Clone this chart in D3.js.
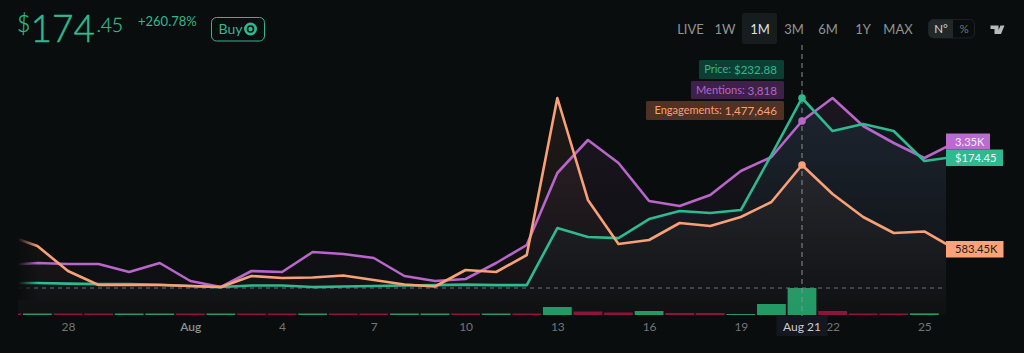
<!DOCTYPE html>
<html><head><meta charset="utf-8">
<script src="https://cdn.jsdelivr.net/npm/d3@7"></script>
<style>html,body{margin:0;padding:0;background:#0a0d0e;overflow:hidden}svg{display:block}text{font-family:Lato,Inter,sans-serif}</style>
</head><body><svg id="c" width="1024" height="353"></svg>
<script>
const startDay = "2023-07-26";
const lastStamp = "2023-08-25T17:15:00Z";
const priceValues = [52.7,52.7,52.2,51.7,51.7,51,49.8,48.8,50.3,50.3,48.8,49.3,49.8,50.3,50.7,51.2,50.7,50.7,106.3,97.5,96.5,115,122.8,120.9,123.8,177.4,232.88,200.7,207.6,200.7,171.5,174.45];
const mentionValues = [1226,1262,1244,1244,1100,1262,938,830,1118,1100,1460,1424,1352,1028,938,974,1262,1586,2882,3476,3062,2378,2288,2486,2918,3170,3818,4232,3728,3422,3152,3350];
const engagementValues = [685000,560800,277800,119400,119400,119400,108000,96700,221200,198600,204000,226900,176000,125000,102300,289100,266500,458900,2236000,1081500,583400,628700,821100,787200,889000,1058800,1477646,1149400,889000,708000,725000,583450];
const volumeValues = [3,3,3,3,3,3,3,3,3,3,3,3,3,3,3,3,3,3,16,7,5,8,4,4,2,22,54,8,3,3,3,3];
const volumeUp = [0,1,0,0,1,1,0,1,0,0,1,0,0,1,1,0,1,0,1,0,0,1,0,0,1,1,1,0,0,0,0,1];
const rangeLabels = ["LIVE","1W","1M","3M","6M","1Y","MAX"];
const tickDays = ["2023-07-28","2023-08-01","2023-08-04","2023-08-07","2023-08-10","2023-08-13","2023-08-16","2023-08-19","2023-08-22","2023-08-25"];
const focusDay = "2023-08-21";
const tooltipRows = [["Price:","$232.88"],["Mentions:","3,818"],["Engagements:","1,477,646"]];
const endLabels = ["3.35K","$174.45","583.45K"];

const BG="#0a0d0e",GREEN="#2fb98f",PURPLE="#b866c9",ORANGE="#f9a077";
const svg=d3.select("#c");
const defs=svg.append("defs");
const utc=s=>new Date(s.length>10?s:s+"T00:00:00Z");
const dates=d3.utcDay.range(utc(startDay),utc("2023-08-26")).concat([utc(lastStamp)]);

const x=d3.scaleUtc().domain([utc("2023-07-28"),utc("2023-08-21")]).range([68,802]);
const yP=d3.scaleLinear().domain([47.9,232.88]).range([288,98]);
const yM=d3.scaleLinear().domain([812,4232]).range([288,98]);
const yE=d3.scaleLinear().domain([85400,2236000]).range([288,98]);
const yV=d3.scaleLinear().domain([0,54]).range([315,288]);

defs.append("clipPath").attr("id","plot").append("rect").attr("x",18).attr("y",40).attr("width",928).attr("height",280);
const series=[
 {id:"m",vals:mentionValues,y:yM,color:PURPLE,op:.10},
 {id:"p",vals:priceValues,y:yP,color:"#2f9fb0",line:GREEN,op:.11},
 {id:"e",vals:engagementValues,y:yE,color:ORANGE,op:.09}
];
series.forEach(s=>{
 const g=defs.append("linearGradient").attr("id","g"+s.id).attr("gradientUnits","userSpaceOnUse").attr("x1",0).attr("x2",0).attr("y1",98).attr("y2",315);
 g.append("stop").attr("offset",0).attr("stop-color",s.color).attr("stop-opacity",s.op);
 g.append("stop").attr("offset",1).attr("stop-color",s.color).attr("stop-opacity",0.01);
});
const fade=defs.append("linearGradient").attr("id","fade");
fade.append("stop").attr("offset",0).attr("stop-color",BG).attr("stop-opacity",1);
fade.append("stop").attr("offset",1).attr("stop-color",BG).attr("stop-opacity",0);

svg.append("rect").attr("width",1024).attr("height",353).attr("fill",BG);
const plot=svg.append("g").attr("clip-path","url(#plot)");

// volume bars
plot.selectAll("rect.v").data(volumeValues).join("rect").attr("class","v")
 .attr("x",(d,i)=>x(d3.utcDay.floor(dates[i]))-14.4).attr("width",28.8)
 .attr("y",d=>yV(d)).attr("height",d=>yV(0)-yV(d))
 .attr("fill",(d,i)=>volumeUp[i]?"#1f9a63":"#8d0f3a");

// areas, then lines
series.forEach(s=>{
 plot.append("path").datum(s.vals)
  .attr("d",d3.area().x((d,i)=>x(dates[i])).y0(315).y1(d=>s.y(d)))
  .attr("fill",`url(#g${s.id})`);
});
plot.append("line").attr("x1",18).attr("x2",946).attr("y1",288).attr("y2",288)
 .attr("stroke","#6d7272").attr("stroke-width",1).attr("stroke-dasharray","4 4");
series.forEach(s=>{
 plot.append("path").datum(s.vals)
  .attr("d",d3.line().x((d,i)=>x(dates[i])).y(d=>s.y(d)))
  .attr("fill","none").attr("stroke",s.line||s.color).attr("stroke-width",2.6).attr("stroke-linejoin","round");
});
svg.append("rect").attr("x",18).attr("y",230).attr("width",20).attr("height",70).attr("fill","url(#fade)");

// crosshair
const fx=x(utc(focusDay)), fi=dates.findIndex(d=>+d===+utc(focusDay));
svg.append("line").attr("x1",fx).attr("x2",fx).attr("y1",45).attr("y2",316)
 .attr("stroke","#8b8f8f").attr("stroke-width",1).attr("stroke-dasharray","5 4");
series.forEach(s=>{
 svg.append("circle").attr("cx",fx).attr("cy",s.y(s.vals[fi])).attr("r",3.8).attr("fill",s.line||s.color);
});

// x axis
const axis=d3.axisBottom(x).tickValues(tickDays.map(utc)).tickSize(0).tickPadding(0)
 .tickFormat(d=>d.getUTCDate()===1?d3.utcFormat("%b")(d):d3.utcFormat("%-d")(d));
const ax=svg.append("g").attr("transform","translate(0,322)").call(axis);
ax.select(".domain").remove();
ax.selectAll("text").attr("fill","#6f7676").attr("font-size",12).attr("font-family","Inter,sans-serif").attr("dy","0.71em").attr("y",0);
ax.selectAll(".tick").filter(d=>d.getUTCDate()===1).select("text").attr("font-weight",600).attr("fill","#8b9292");
svg.append("rect").attr("x",fx-25.5).attr("y",316).attr("width",51).attr("height",20).attr("fill","#14171f");
svg.append("text").attr("x",fx).attr("y",331).attr("text-anchor","middle").attr("font-size",12).attr("fill","#c9cdd0").attr("font-family","Inter,sans-serif").text(d3.utcFormat("%b %-d")(utc(focusDay)));

// tooltip
const tipCfg=[{x:699,y:60,h:19,bg:"#0b3f33",fg:GREEN},{x:691,y:81,h:18,bg:"#3d2148",fg:PURPLE},{x:646,y:101,h:19,bg:"#4f3224",fg:ORANGE}];
tooltipRows.forEach((r,i)=>{
 const c=tipCfg[i];
 svg.append("rect").attr("x",c.x).attr("y",c.y).attr("width",784-c.x).attr("height",c.h).attr("rx",1.5).attr("fill",c.bg);
 const t=svg.append("text").attr("x",777).attr("y",c.y+c.h/2+4.5).attr("text-anchor","end").attr("font-size",11.6).attr("fill",c.fg);
 t.append("tspan").attr("font-size",11).attr("dy",-1).text(r[0]+" ");
 t.append("tspan").attr("dy",1).text(r[1]);
});

// end labels
const endCfg=[{y:133.5,w:44,h:16,bg:"#b96bce",fg:"#f4eaf7"},{y:149.5,w:57,h:16.5,bg:GREEN,fg:"#eafaf5"},{y:241,w:57.5,h:16.5,bg:"#f9a27c",fg:"#2a1a12"}];
endLabels.forEach((l,i)=>{
 const c=endCfg[i];
 svg.append("rect").attr("x",946).attr("y",c.y).attr("width",c.w).attr("height",c.h).attr("fill",c.bg);
 svg.append("text").attr("x",955).attr("y",c.y+c.h/2+4.2).attr("font-size",11.2).attr("fill",c.fg).text(l);
});

// header
const h=svg.append("g").attr("fill",GREEN);
h.append("text").attr("x",17).attr("y",32).attr("font-size",23).attr("font-weight",300).attr("stroke",GREEN).attr("stroke-width",0.3).text("$");
h.append("text").attr("x",30.5).attr("y",42).attr("font-size",37).attr("font-weight",300).attr("stroke",GREEN).attr("stroke-width",0.5).text("174");
h.append("text").attr("x",96.5).attr("y",32).attr("font-size",19.5).attr("font-weight",300).attr("stroke",GREEN).attr("stroke-width",0.3).attr("letter-spacing",-0.3).text(".45");
h.append("text").attr("x",138).attr("y",26).attr("font-size",13).text("+260.78%");
svg.append("rect").attr("x",211.5).attr("y",17.5).attr("width",53).attr("height",23.5).attr("rx",5).attr("fill","none").attr("stroke",GREEN);
svg.append("text").attr("x",218.5).attr("y",34).attr("font-size",14).attr("fill",GREEN).text("Buy");
svg.append("circle").attr("cx",250.5).attr("cy",29).attr("r",6.5).attr("fill",GREEN);
svg.append("circle").attr("cx",250.5).attr("cy",29).attr("r",3).attr("fill","none").attr("stroke",BG).attr("stroke-width",1.6);

// range buttons
const rangeX=[690.5,725,760,794,828,863,898];
svg.append("rect").attr("x",742).attr("y",13).attr("width",35).attr("height",31).attr("rx",2.5).attr("fill","#171d1e");
rangeLabels.forEach((l,i)=>{
 svg.append("text").attr("x",rangeX[i]).attr("y",34).attr("text-anchor","middle").attr("font-size",13)
  .attr("font-family","Inter,sans-serif").attr("fill",l==="1M"?"#dfe3e3":"#8f9595").text(l);
});
svg.append("rect").attr("x",928.5).attr("y",19.5).attr("width",46).attr("height",18.5).attr("rx",5).attr("fill","none").attr("stroke","#1b2122");
svg.append("path").attr("d","M933.5 19.5H953V38H933.5a5 5 0 0 1-5-5V24.5a5 5 0 0 1 5-5z").attr("fill","#20282a");
svg.append("text").attr("x",941).attr("y",33).attr("text-anchor","middle").attr("font-size",11.5).attr("font-family","Inter,sans-serif").attr("fill","#d5d9d9").text("N°");
svg.append("text").attr("x",964).attr("y",33).attr("text-anchor","middle").attr("font-size",11.5).attr("font-family","Inter,sans-serif").attr("fill","#6f7676").text("%");
svg.append("path").attr("d","M990.5 25.5h8v8.5h-4v-5h-4zM1000.5 25.5h4l-3.5 8.5h-4.2z").attr("fill","#b5baba");
</script></body></html>
